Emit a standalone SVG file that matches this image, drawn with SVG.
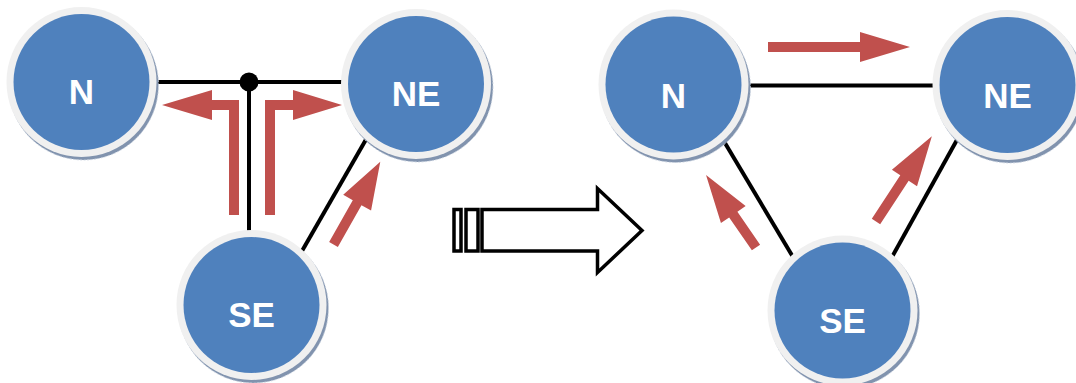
<svg xmlns="http://www.w3.org/2000/svg" width="1076" height="383" viewBox="0 0 1076 383">
<style>
.sh{fill:#8193AE;stroke:#C5CFDD;stroke-width:0.8;stroke-dasharray:2 1.5}
.ring{fill:#F0F0F0}
.core{fill:#4F81BD}
.lbl{font-family:"Liberation Sans",Arial,sans-serif;font-weight:bold;font-size:35px;fill:#FFFFFF;text-anchor:middle}
.ln{stroke:#000;stroke-width:4;fill:none}
.ra{fill:#C0504D}
.big{fill:#FFFFFF;stroke:#000;stroke-width:3.5;stroke-linejoin:miter}
</style>
<rect width="1076" height="383" fill="#FFFFFF"/>
<g id="connectors">
  <line class="ln" x1="155" y1="82" x2="345" y2="82"/>
  <line class="ln" x1="249" y1="82" x2="249" y2="232"/>
  <circle cx="249" cy="82" r="9.5" fill="#000"/>
  <line class="ln" x1="302" y1="251" x2="368" y2="136"/>
  <line class="ln" x1="745" y1="85.5" x2="935" y2="85.5"/>
  <line class="ln" x1="722" y1="138" x2="793" y2="257"/>
  <line class="ln" x1="958" y1="138" x2="892" y2="257"/>
  <polygon class="ra" points="239,215 239,100 212,100 212,90 162,105 212,120 212,110 229,110 229,215"/>
  <polygon class="ra" points="265,215 265,100 293,100 293,90 342,105 293,120 293,110 275,110 275,215"/>
  <path class="ra" d="M0,-5 L48,-5 L48,-16 L95,0 L48,16 L48,5 L0,5 Z" transform="translate(333.5,244.5) rotate(-60.5)"/>
  <path class="ra" d="M0,-5 L92,-5 L92,-15 L142,0 L92,15 L92,5 L0,5 Z" transform="translate(768,47)"/>
  <path class="ra" d="M0,-5 L40,-5 L40,-15 L88,0 L40,15 L40,5 L0,5 Z" transform="translate(756,247.5) rotate(-124.6)"/>
  <path class="ra" d="M0,-5 L52,-5 L52,-15 L102,0 L52,15 L52,5 L0,5 Z" transform="translate(876,221.5) rotate(-56.8)"/>
</g>
<g id="transform-arrow">
  <rect class="big" x="454" y="209.5" width="7" height="41.5"/>
  <rect class="big" x="466" y="209.5" width="12" height="41.5"/>
  <polygon class="big" points="482,209.5 597.5,209.5 597.5,188.5 642,230.5 597.5,272.5 597.5,251 482,251"/>
</g>
<g id="node-N-left">
  <circle class="sh" cx="83.5" cy="85" r="75"/>
  <circle class="ring" cx="81.5" cy="82" r="75"/>
  <circle class="core" cx="81.5" cy="82" r="68"/>
  <text class="lbl" x="81.5" y="104">N</text>
</g>
<g id="node-NE-left">
  <circle class="sh" cx="418" cy="87" r="75"/>
  <circle class="ring" cx="416" cy="84" r="75"/>
  <circle class="core" cx="416" cy="84" r="68"/>
  <text class="lbl" x="416" y="106">NE</text>
</g>
<g id="node-SE-left">
  <circle class="sh" cx="253.5" cy="308" r="75"/>
  <circle class="ring" cx="251.5" cy="305" r="75"/>
  <circle class="core" cx="251.5" cy="305" r="68"/>
  <text class="lbl" x="251.5" y="327">SE</text>
</g>
<g id="node-N-right">
  <circle class="sh" cx="675.5" cy="87.5" r="75"/>
  <circle class="ring" cx="673.5" cy="84.5" r="75"/>
  <circle class="core" cx="673.5" cy="84.5" r="68"/>
  <text class="lbl" x="673.5" y="107.5">N</text>
</g>
<g id="node-NE-right">
  <circle class="sh" cx="1009.5" cy="88" r="75"/>
  <circle class="ring" cx="1007.5" cy="85" r="75"/>
  <circle class="core" cx="1007.5" cy="85" r="68"/>
  <text class="lbl" x="1007.5" y="108">NE</text>
</g>
<g id="node-SE-right">
  <circle class="sh" cx="844.5" cy="313.5" r="75"/>
  <circle class="ring" cx="842.5" cy="310.5" r="75"/>
  <circle class="core" cx="842.5" cy="310.5" r="68"/>
  <text class="lbl" x="842.5" y="332.5">SE</text>
</g>
</svg>
